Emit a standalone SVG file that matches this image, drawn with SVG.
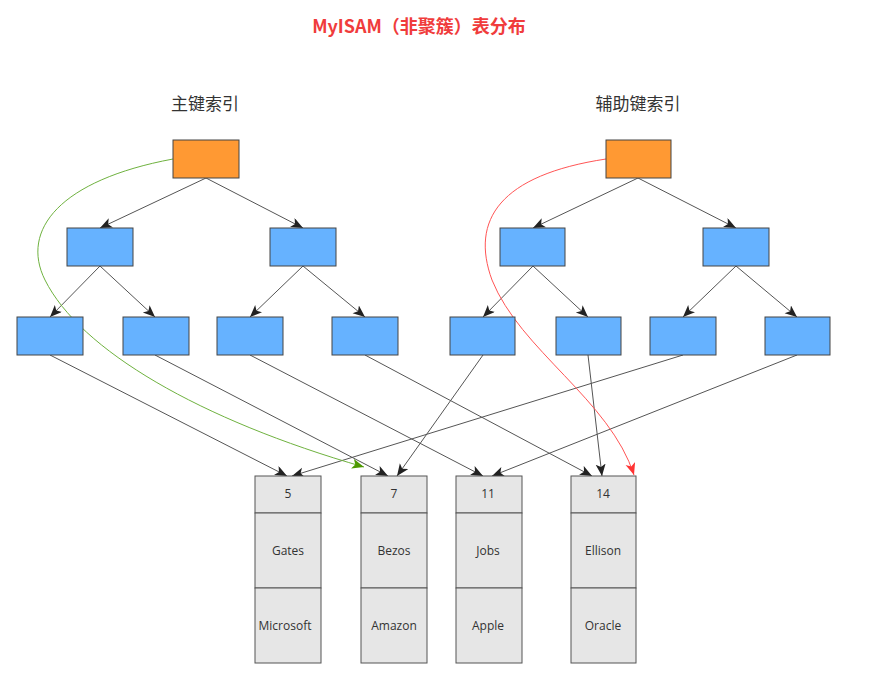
<svg xmlns="http://www.w3.org/2000/svg" width="872" height="690" viewBox="0 0 872 690">
<defs>
<style>
.root{fill:#FF9933;stroke:#444;stroke-width:1}
.node{fill:#66B2FF;stroke:#444;stroke-width:1}
.rec{fill:#E6E6E6;stroke:#555;stroke-width:1}
.edge{fill:none;stroke:#555;stroke-width:1;marker-end:url(#ah)}
.t{font-family:"Open Sans","Noto Sans","Liberation Sans",sans-serif;font-size:12px;fill:#333;text-anchor:middle}
.h{font-family:"Noto Sans CJK SC","Noto Sans",sans-serif;font-size:17px;fill:#333;text-anchor:middle}
</style>
<marker id="ah" markerUnits="userSpaceOnUse" markerWidth="14" markerHeight="12" refX="12" refY="5" orient="auto" viewBox="0 0 14 12"><path d="M0,0 L12,5 L0,10 L3,5 z" fill="#222"/></marker>
<marker id="ahg" markerUnits="userSpaceOnUse" markerWidth="14" markerHeight="12" refX="12" refY="5" orient="auto" viewBox="0 0 14 12"><path d="M0,0 L12,5 L0,10 L3,5 z" fill="#4D9900"/></marker>
<marker id="ahr" markerUnits="userSpaceOnUse" markerWidth="14" markerHeight="12" refX="12" refY="5" orient="auto" viewBox="0 0 14 12"><path d="M0,0 L12,5 L0,10 L3,5 z" fill="#FF3333"/></marker>
</defs>
<rect width="872" height="690" fill="#fff"/>
<text x="419" y="33" font-family="'Noto Sans CJK SC','Noto Sans',sans-serif" font-size="18" font-weight="bold" fill="#F03C3C" text-anchor="middle">MyISAM（非聚簇）表分布</text>
<text id="label-primary" class="h" x="205" y="110">主键索引</text>
<text id="label-secondary" class="h" x="638" y="110">辅助键索引</text>

<g id="connectors">
<path class="edge" d="M206,178 L100,228"/>
<path class="edge" d="M206,178 L303,228"/>
<path class="edge" d="M100,266 L50,317"/>
<path class="edge" d="M100,266 L155,317"/>
<path class="edge" d="M303,266 L250,317"/>
<path class="edge" d="M303,266 L365,317"/>
<path class="edge" d="M638,178 L533,228"/>
<path class="edge" d="M638,178 L736,228"/>
<path class="edge" d="M533,266 L483,317"/>
<path class="edge" d="M533,266 L588,317"/>
<path class="edge" d="M736,266 L683,317"/>
<path class="edge" d="M736,266 L797,317"/>
<path class="edge" d="M50,355 L287,476"/>
<path class="edge" d="M155,355 L388,476"/>
<path class="edge" d="M250,355 L483,476"/>
<path class="edge" d="M365,355 L592,476"/>
<path class="edge" d="M483,355 L397,476"/>
<path class="edge" d="M588,355 L602,476"/>
<path class="edge" d="M683,355 L292,476"/>
<path class="edge" d="M797,355 L492,476"/>
<path d="M173,159 C60,180 20,230 45,280 C80,350 200,420 364,467" fill="none" stroke="#6FB23F" stroke-width="1" marker-end="url(#ahg)"/>
<path d="M606,159 C500,175 470,220 492,280 C520,350 610,400 634,475" fill="none" stroke="#FF5555" stroke-width="1" marker-end="url(#ahr)"/>
</g>

<g id="pk-root"><rect class="root" x="173" y="140" width="66" height="38"/></g>
<g id="pk-l2a"><rect class="node" x="67" y="228" width="66" height="38"/></g>
<g id="pk-l2b"><rect class="node" x="270" y="228" width="66" height="38"/></g>
<g id="pk-l3a"><rect class="node" x="17" y="317" width="66" height="38"/></g>
<g id="pk-l3b"><rect class="node" x="123" y="317" width="66" height="38"/></g>
<g id="pk-l3c"><rect class="node" x="217" y="317" width="66" height="38"/></g>
<g id="pk-l3d"><rect class="node" x="332" y="317" width="66" height="38"/></g>

<g id="sk-root"><rect class="root" x="606" y="140" width="65" height="38"/></g>
<g id="sk-l2a"><rect class="node" x="500" y="228" width="65" height="38"/></g>
<g id="sk-l2b"><rect class="node" x="703" y="228" width="66" height="38"/></g>
<g id="sk-l3a"><rect class="node" x="450" y="317" width="65" height="38"/></g>
<g id="sk-l3b"><rect class="node" x="556" y="317" width="65" height="38"/></g>
<g id="sk-l3c"><rect class="node" x="650" y="317" width="66" height="38"/></g>
<g id="sk-l3d"><rect class="node" x="765" y="317" width="65" height="38"/></g>

<g id="rec-5">
<rect class="rec" x="255" y="476" width="66" height="37"/>
<rect class="rec" x="255" y="513" width="66" height="75"/>
<rect class="rec" x="255" y="588" width="66" height="75"/>
<text class="t" x="288" y="498">5</text>
<text class="t" x="288" y="555">Gates</text>
<text class="t" x="285" y="630">Microsoft</text>
</g>
<g id="rec-7">
<rect class="rec" x="361" y="476" width="66" height="37"/>
<rect class="rec" x="361" y="513" width="66" height="75"/>
<rect class="rec" x="361" y="588" width="66" height="75"/>
<text class="t" x="394" y="498">7</text>
<text class="t" x="394" y="555">Bezos</text>
<text class="t" x="394" y="630">Amazon</text>
</g>
<g id="rec-11">
<rect class="rec" x="456" y="476" width="66" height="37"/>
<rect class="rec" x="456" y="513" width="66" height="75"/>
<rect class="rec" x="456" y="588" width="66" height="75"/>
<text class="t" x="488" y="498">11</text>
<text class="t" x="488" y="555">Jobs</text>
<text class="t" x="488" y="630">Apple</text>
</g>
<g id="rec-14">
<rect class="rec" x="571" y="476" width="65" height="37"/>
<rect class="rec" x="571" y="513" width="65" height="75"/>
<rect class="rec" x="571" y="588" width="65" height="75"/>
<text class="t" x="603" y="498">14</text>
<text class="t" x="603" y="555">Ellison</text>
<text class="t" x="603" y="630">Oracle</text>
</g>
</svg>
